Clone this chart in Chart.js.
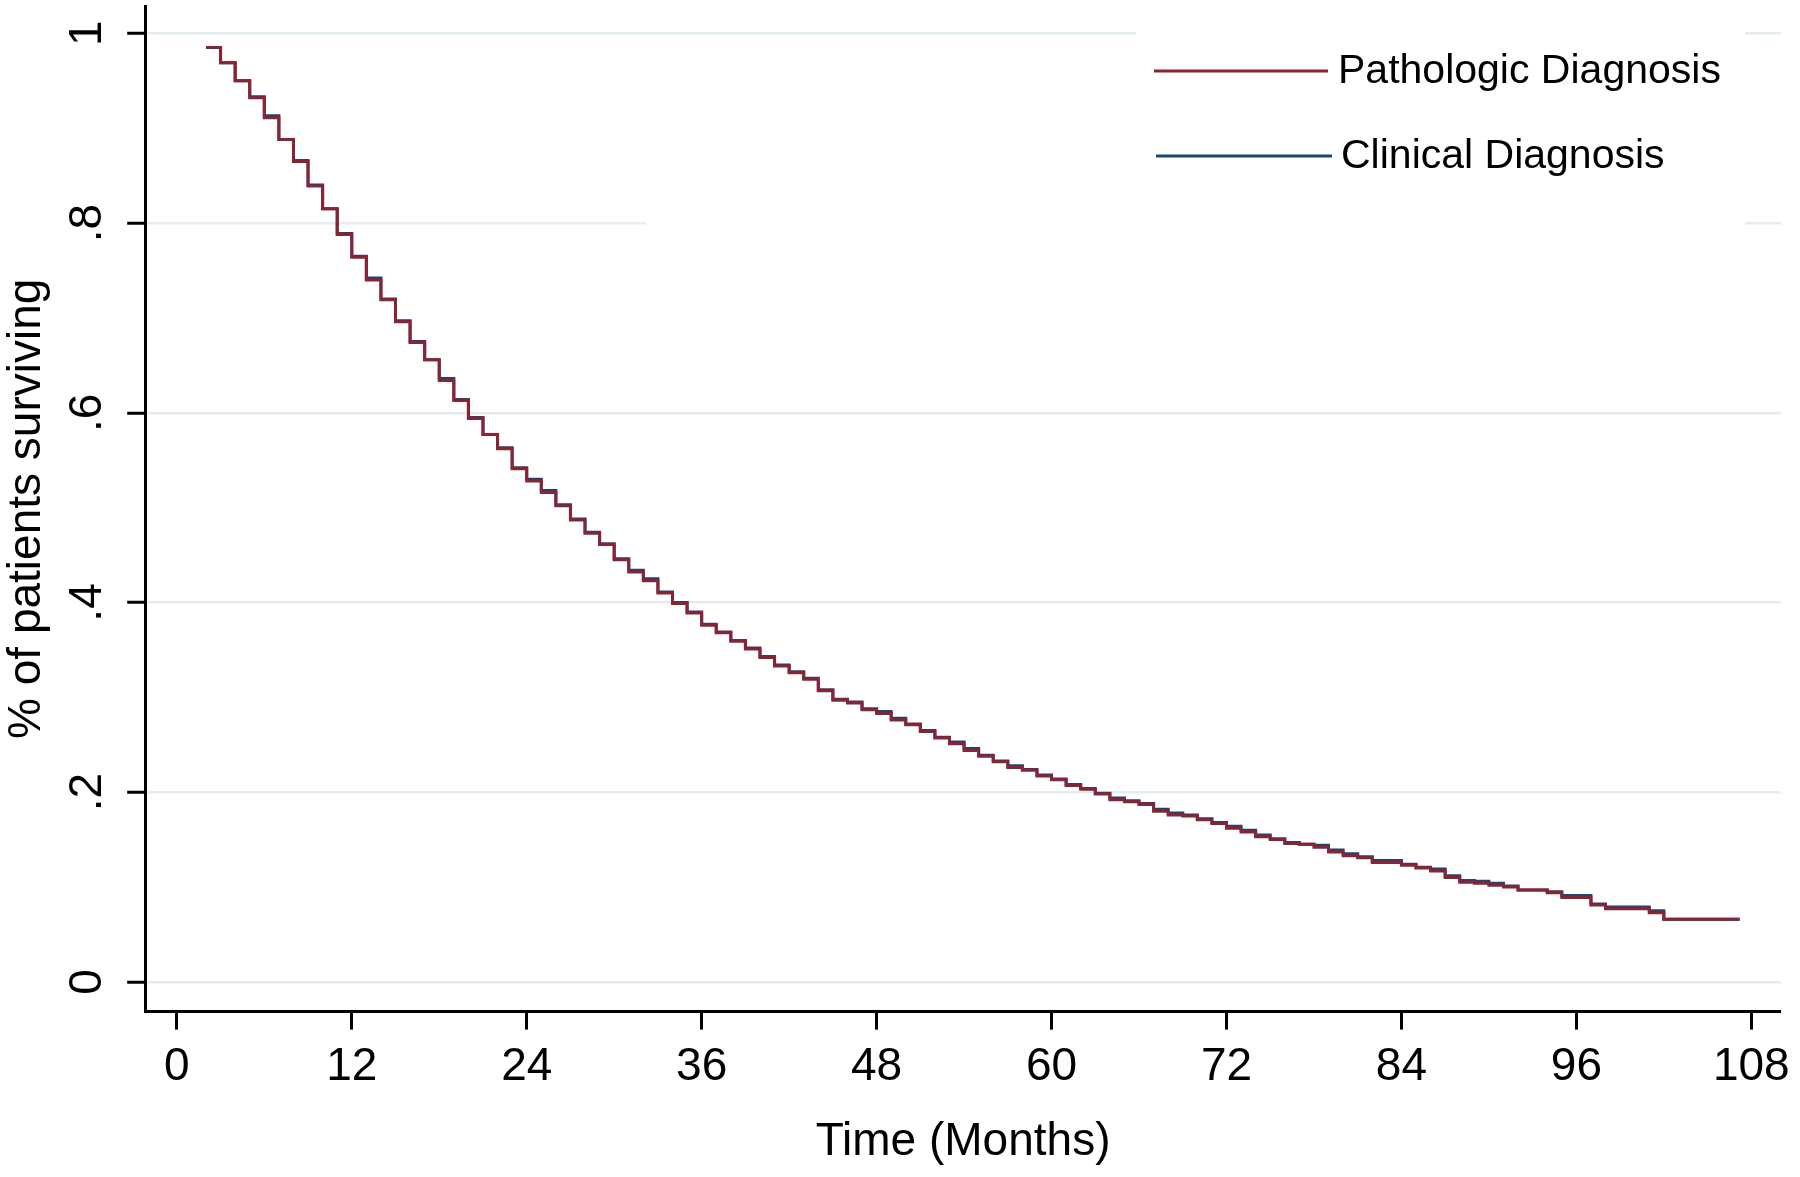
<!DOCTYPE html>
<html lang="en">
<head>
  <meta charset="UTF-8" />
  <title>Survival by type of diagnosis</title>
  <script src="https://cdn.jsdelivr.net/npm/chart.js"></script>
  <style>
    * { box-sizing: border-box; margin: 0; padding: 0; }
    body { background: #fff; width: 1800px; height: 1177px; overflow: hidden; }
    #wrap { width: 1800px; height: 1177px; }
  </style>
</head>
<body>
  <div id="wrap"><canvas id="kmChart" width="1800" height="1177"></canvas></div>

  <script>
    // Kaplan-Meier estimates (month, survival)
    const months = [2, 3, 4, 5, 6, 7, 8, 9, 10, 11, 12, 13, 14, 15, 16, 17, 18, 19, 20, 21,
      22, 23, 24, 25, 26, 27, 28, 29, 30, 31, 32, 33, 34, 35, 36, 37, 38, 39, 40, 41,
      42, 43, 44, 45, 46, 47, 48, 49, 50, 51, 52, 53, 54, 55, 56, 57, 58, 59, 60, 61,
      62, 63, 64, 65, 66, 67, 68, 69, 70, 71, 72, 73, 74, 75, 76, 77, 78, 79, 80, 81,
      82, 83, 84, 85, 86, 87, 88, 89, 90, 91, 92, 93, 94, 95, 96, 97, 98, 99, 100, 101,
      102, 107.2];

    const pathologic = [.985, .969, .950, .932, .911, .888, .865, .839, .815, .788, .764, .740, .719, .696, .674, .656, .634, .613, .594, .577,
      .562, .541, .528, .516, .502, .487, .473, .461, .445, .432, .423, .410, .399, .389, .376, .368, .359, .351, .342, .333,
      .326, .319, .307, .297, .294, .287, .283, .276, .271, .264, .257, .251, .244, .238, .232, .226, .223, .217, .213, .207,
      .203, .198, .192, .190, .187, .180, .176, .175, .171, .167, .162, .158, .153, .150, .146, .145, .142, .137, .133, .131,
      .126, .126, .123, .120, .117, .110, .105, .104, .102, .100, .097, .097, .094, .089, .089, .081, .077, .077, .077, .073,
      .066, .066];

    const clinical = [.985, .969, .950, .933, .913, .888, .866, .840, .815, .789, .765, .742, .720, .697, .675, .656, .636, .614, .595, .577,
      .563, .542, .530, .518, .503, .488, .474, .462, .446, .434, .425, .411, .400, .390, .377, .369, .360, .352, .343, .334,
      .327, .320, .308, .298, .295, .288, .285, .278, .272, .265, .258, .253, .246, .239, .233, .228, .224, .218, .214, .208,
      .204, .199, .194, .191, .188, .182, .178, .176, .172, .168, .164, .160, .155, .151, .147, .145, .144, .139, .135, .132,
      .128, .128, .124, .121, .119, .112, .107, .106, .104, .101, .097, .097, .095, .091, .091, .082, .079, .079, .079, .075,
      .066, .066];

    const seriesNames = ['Pathologic Diagnosis', 'Clinical Diagnosis'];
    const seriesColors = ['#8c2232', '#1a476f'];

    const xTicks = [0, 12, 24, 36, 48, 60, 72, 84, 96, 108];
    const yTicks = [0, 0.2, 0.4, 0.6, 0.8, 1];
    const yTickLabels = ['0', '.2', '.4', '.6', '.8', '1'];

    const FONT = "'Liberation Sans', Arial, sans-serif";
    Chart.defaults.font.family = FONT;
    Chart.defaults.color = '#000';

    // the legend box hides part of the two top gridlines
    const gridGaps = {
      id: 'gridGaps',
      beforeDatasetsDraw(chart) {
        const { ctx, scales: { y } } = chart;
        ctx.save();
        ctx.fillStyle = '#fff';
        ctx.fillRect(1136, y.getPixelForValue(1) - 5, 1745 - 1136, 10);
        ctx.fillRect(646, y.getPixelForValue(0.8) - 5, 1745 - 646, 10);
        ctx.restore();
      }
    };

    // rotated y tick labels (Stata style)
    const yLabels = {
      id: 'yLabels',
      afterDraw(chart) {
        const { ctx, scales: { y } } = chart;
        ctx.save();
        ctx.fillStyle = '#000';
        ctx.font = '46px ' + FONT;
        ctx.textAlign = 'center';
        ctx.textBaseline = 'middle';
        yTicks.forEach((v, i) => {
          ctx.save();
          ctx.translate(88, y.getPixelForValue(v));
          ctx.rotate(-Math.PI / 2);
          ctx.fillText(yTickLabels[i], 0, 0);
          ctx.restore();
        });
        ctx.restore();
      }
    };

    const legendBox = {
      id: 'legendBox',
      afterDraw(chart) {
        const { ctx } = chart;
        const rows = [
          { x1: 1154, x2: 1328, y: 71, tx: 1338 },
          { x1: 1156, x2: 1332, y: 156, tx: 1341 }
        ];
        ctx.save();
        ctx.font = '41px ' + FONT;
        ctx.textBaseline = 'middle';
        ctx.textAlign = 'left';
        chart.data.datasets.forEach((ds, i) => {
          const r = rows[i];
          ctx.strokeStyle = ds.borderColor;
          ctx.lineWidth = 3;
          ctx.beginPath();
          ctx.moveTo(r.x1, r.y);
          ctx.lineTo(r.x2, r.y);
          ctx.stroke();
          ctx.fillStyle = '#000';
          ctx.fillText(ds.label, r.tx, r.y + 1);
        });
        ctx.restore();
      }
    };

    const makeSeries = (vals) => months.map((m, i) => ({ x: m, y: vals[i] }));

    new Chart(document.getElementById('kmChart'), {
      type: 'line',
      data: {
        datasets: [
          { label: seriesNames[0], data: makeSeries(pathologic), borderColor: seriesColors[0] },
          { label: seriesNames[1], data: makeSeries(clinical), borderColor: seriesColors[1] }
        ]
      },
      options: {
        responsive: false,
        animation: false,
        devicePixelRatio: 1,
        layout: { padding: { top: 6, right: 17, bottom: 0, left: 0 } },
        elements: {
          line: { stepped: true, borderWidth: 3, fill: false, tension: 0 },
          point: { radius: 0 }
        },
        plugins: { legend: { display: false }, tooltip: { enabled: false } },
        scales: {
          x: {
            type: 'linear',
            min: -2.17,
            max: 110.03,
            afterBuildTicks: s => { s.ticks = xTicks.map(v => ({ value: v })); },
            ticks: { autoSkip: false, maxRotation: 0, padding: 10, font: { size: 46 }, color: '#000' },
            grid: { drawOnChartArea: false, drawTicks: true, tickLength: 18, tickWidth: 3, tickColor: '#000' },
            border: { display: true, color: '#000', width: 3 },
            title: { display: true, text: 'Time (Months)', font: { size: 46 }, color: '#000', padding: { top: 10, bottom: 7 } }
          },
          y: {
            type: 'linear',
            min: -0.0313,
            max: 1.0288,
            afterBuildTicks: s => { s.ticks = yTicks.map(v => ({ value: v })); },
            ticks: { display: false },
            grid: { color: '#e3edf0', lineWidth: 2.5, drawTicks: true, tickLength: 18, tickWidth: 3, tickColor: '#000' },
            border: { display: true, color: '#000', width: 3 },
            title: { display: true, text: '% of patients surviving', font: { size: 46 }, color: '#000', padding: { top: 0, bottom: 72 } }
          }
        }
      },
      plugins: [gridGaps, yLabels, legendBox]
    });
  </script>
</body>
</html>
